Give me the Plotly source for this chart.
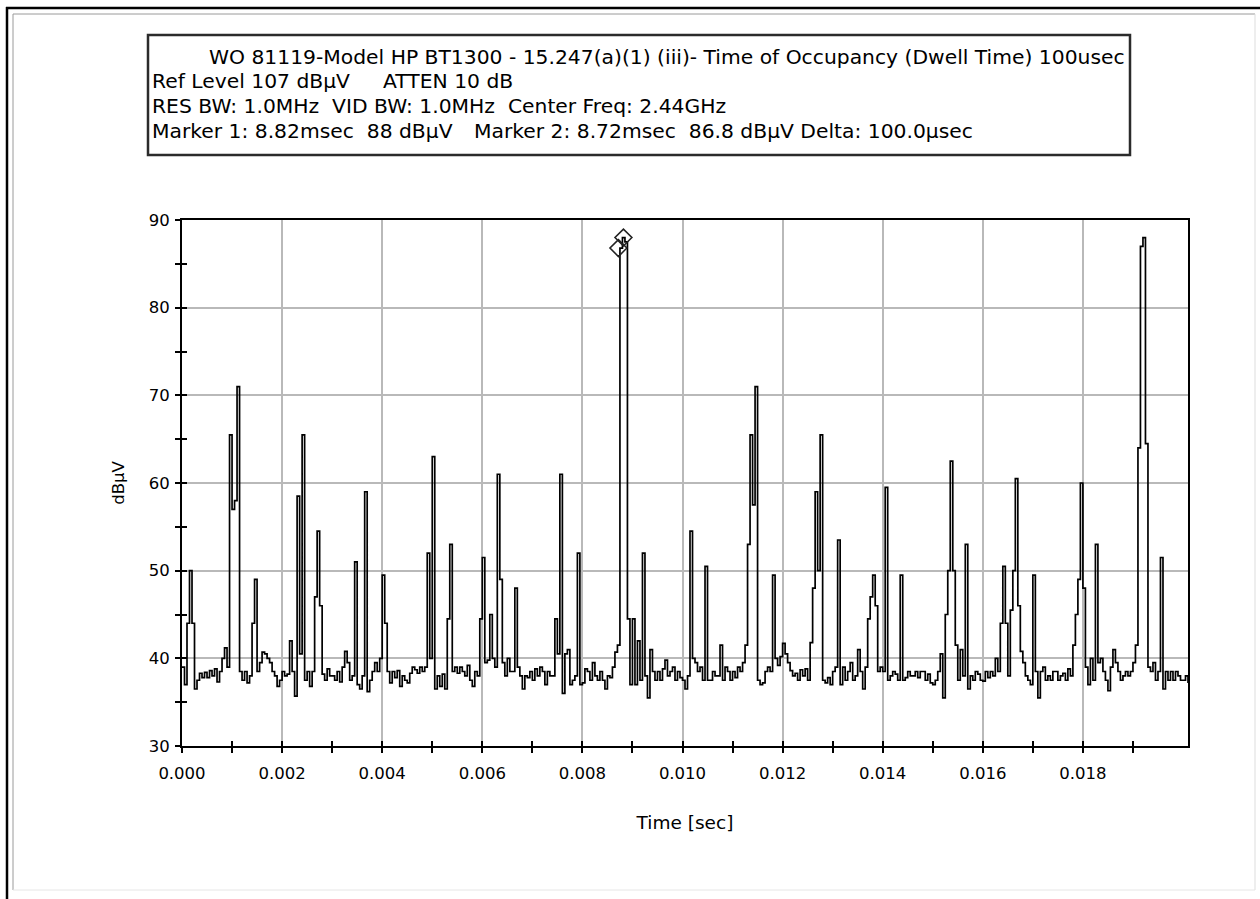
import plotly.graph_objects as go

# ---------------- data ----------------
SAMPLE_STEP_S = 0.00005          # sweep sample spacing (20.1 ms / 402 steps)
X_RANGE_S = [0.0, 0.0201]
Y_RANGE_DB = [30, 90]

level_dbuv = [
    39, 37, 44, 50, 44, 36.5, 37.5, 38.3, 37.8, 38.4, 37.8, 38.6, 38, 38.8, 37.3, 38.5, 40, 41.2, 39, 65.5,
    57, 58, 71, 38.5, 37.5, 38.5, 37.2, 38, 44, 49, 38.5, 39.5, 40.7, 40.5, 40, 39.5, 38.5, 38, 36.8, 37.5,
    38.5, 38, 38.2, 42, 38.5, 35.7, 58.5, 40.5, 65.5, 37.5, 38.5, 36.8, 38.5, 47, 54.5, 46, 38.2, 37.5, 38.8, 38,
    38, 37.5, 38.5, 37.3, 39, 40.8, 39.5, 37.5, 38, 51, 37, 36.5, 38, 59, 36.2, 37.5, 38.5, 39.5, 38.5, 40,
    49.5, 44, 38.5, 37.2, 38.5, 37.8, 38.6, 36.8, 38, 37.5, 37.2, 38.3, 39, 38.7, 38.3, 39, 38.5, 39, 52, 40,
    63, 36.5, 38, 36.8, 38.2, 36.5, 44.5, 53, 38.5, 39, 38.3, 39, 38.5, 38, 39.2, 37.5, 36.8, 38.5, 38, 44.5,
    51.5, 39.5, 39.8, 45, 40, 39, 61, 49, 39.5, 38, 40, 38.5, 38.5, 48, 39, 38, 36.5, 38, 37.8, 38.5,
    37.5, 38.8, 38, 39, 38.5, 37, 38.5, 38, 38, 44.5, 40.5, 61, 36, 40.5, 41, 37, 37.5, 38, 52, 37,
    37.2, 38.8, 38.5, 37.5, 39.5, 38, 37.5, 38.5, 37.5, 36.5, 38, 37.8, 39, 40.7, 41.5, 86.8, 88, 87.5, 44.5, 37,
    44.5, 37, 42, 37.5, 52, 38, 35.5, 41, 38.5, 37.5, 38.5, 37.5, 38.8, 39.8, 38, 38.5, 39, 37.5, 38.5, 37.8,
    37.5, 36.5, 38, 54.5, 40, 39.5, 38.5, 39, 37.5, 50.5, 37.5, 37.5, 38.5, 38, 38, 41.5, 37.5, 39, 38.5, 37.5,
    38.5, 37.8, 39, 38.5, 39.5, 41.5, 53, 65.5, 57.5, 71, 37.5, 37, 37.2, 38.5, 39, 38.5, 49.5, 40, 39.2, 40.2,
    41.7, 40.5, 39.5, 38.6, 38, 38.3, 37.5, 38.7, 38, 38.8, 37.5, 41.8, 48, 59, 50, 65.5, 37.5, 37.2, 37.8, 37,
    38.5, 39, 53.5, 37, 39, 37.5, 38.5, 39.5, 37.5, 38, 41, 38.5, 36.5, 39, 44.5, 47, 49.5, 46, 38.5, 39,
    38.5, 59.5, 37.5, 38, 38.5, 38.2, 37.5, 49.5, 37.5, 37.8, 38.5, 38, 38, 38.5, 37.8, 38.5, 38.5, 37.5, 38.2, 37.2,
    37, 37.5, 38.5, 40.5, 35.5, 45, 50, 62.5, 50, 41.5, 37.5, 41, 38, 53, 36.5, 38, 37.5, 38.5, 38.2, 37.5,
    37.4, 38.5, 37.8, 38.5, 38, 40, 38.5, 44, 50.5, 44, 38, 45.5, 50, 60.5, 46, 40.8, 39.5, 38, 37.5, 37,
    49.5, 38.5, 35.5, 38.5, 39, 37.5, 38, 37.5, 38.5, 38.5, 37.5, 38, 38.3, 37.5, 38.8, 38, 41.5, 45, 49, 60,
    48, 39, 37, 40, 37.5, 53, 39.5, 40, 38.5, 37.5, 36.3, 39, 41, 39.5, 38.5, 37.5, 38, 38.5, 38, 38.5,
    39.5, 41.5, 64, 87, 88, 64.5, 39, 38.5, 39.5, 37.5, 38.5, 51.5, 36.5, 38.5, 37.5, 38.5, 37.5, 38.5, 38, 37.5,
    37.5, 38, 37.2,
]
time_s = [i * SAMPLE_STEP_S for i in range(len(level_dbuv))]

marker_time_s = [0.00882, 0.00872]
marker_level_dbuv = [88.0, 86.8]

x_tick_vals = [0.000, 0.002, 0.004, 0.006, 0.008, 0.010, 0.012, 0.014, 0.016, 0.018]
x_tick_text = ["0.000", "0.002", "0.004", "0.006", "0.008", "0.010", "0.012", "0.014", "0.016", "0.018"]
x_minor_vals = [0.001, 0.003, 0.005, 0.007, 0.009, 0.011, 0.013, 0.015, 0.017, 0.019]
y_tick_vals = [30, 40, 50, 60, 70, 80, 90]
y_minor_vals = [35, 45, 55, 65, 75, 85]

header_title = "WO 81119-Model HP BT1300 - 15.247(a)(1) (iii)- Time of Occupancy (Dwell Time) 100usec"
header_ref = "Ref Level 107 dBµV"
header_atten = "ATTEN 10 dB"
header_bw = "RES BW: 1.0MHz\u00a0\u00a0VID BW: 1.0MHz\u00a0\u00a0Center Freq: 2.44GHz"
header_m1 = "Marker 1: 8.82msec\u00a0\u00a088 dBµV"
header_m2 = "Marker 2: 8.72msec\u00a0\u00a086.8 dBµV Delta: 100.0µsec"

# ---------------- layout geometry (pixels) ----------------
W, H = 1260, 899
L, R, T, B = 182, 1188, 220, 746
FONT = "DejaVu Sans, Liberation Sans, sans-serif"


def px(x):
    return (x - L) / (R - L)


def py(y):
    return (B - y) / (B - T)


fig = go.Figure()
fig.add_trace(go.Scatter(
    x=time_s, y=level_dbuv, mode="lines", line=dict(color="black", width=1.7, shape="hv"),
    hoverinfo="skip", showlegend=False,
))
fig.add_trace(go.Scatter(
    x=marker_time_s, y=marker_level_dbuv, mode="markers",
    marker=dict(symbol="diamond-open", size=13, color="#222", line=dict(width=1.6)),
    hoverinfo="skip", showlegend=False,
))
# dummy trace for the overlay axes that draw the inward half of the crossing ticks
fig.add_trace(go.Scatter(x=[None], y=[None], xaxis="x2", yaxis="y2", showlegend=False, hoverinfo="skip"))

tickfont = dict(family=FONT, size=16.5, color="black")
fig.update_layout(
    width=W, height=H,
    margin=dict(l=L, r=W - R, t=T, b=H - B),
    paper_bgcolor="white", plot_bgcolor="white",
    font=dict(family=FONT, color="black"),
    xaxis=dict(
        range=X_RANGE_S, tickmode="array", tickvals=x_tick_vals, ticktext=x_tick_text,
        ticks="outside", ticklen=5, tickwidth=1.5, tickcolor="black",
        minor=dict(tickmode="array", tickvals=x_minor_vals, ticks="outside", ticklen=5,
                   tickwidth=1.5, tickcolor="black", showgrid=False),
        showgrid=True, gridcolor="#b9b9b9", gridwidth=1.5,
        showline=True, linecolor="black", linewidth=2, mirror=True,
        zeroline=False, tickfont=tickfont, ticklabelstandoff=6,
        title=dict(text="Time [sec]", font=dict(family=FONT, size=18.5), standoff=34),
    ),
    yaxis=dict(
        range=Y_RANGE_DB, tickmode="array", tickvals=y_tick_vals,
        ticks="outside", ticklen=5, tickwidth=1.5, tickcolor="black",
        minor=dict(tickmode="array", tickvals=y_minor_vals, ticks="outside", ticklen=5,
                   tickwidth=1.5, tickcolor="black", showgrid=False),
        showgrid=True, gridcolor="#b9b9b9", gridwidth=1.5,
        showline=True, linecolor="black", linewidth=2, mirror=True,
        zeroline=False, tickfont=tickfont, ticklabelstandoff=2,
        title=dict(text="dBµV", font=dict(family=FONT, size=16.5), standoff=20),
    ),
    xaxis2=dict(
        overlaying="x", anchor="y2", range=X_RANGE_S, tickmode="array", tickvals=x_tick_vals,
        ticks="inside", ticklen=5, tickwidth=1.5, tickcolor="black", showticklabels=False,
        minor=dict(tickmode="array", tickvals=x_minor_vals, ticks="inside", ticklen=5,
                   tickwidth=1.5, tickcolor="black"),
        showgrid=False, showline=False, zeroline=False,
    ),
    yaxis2=dict(
        overlaying="y", anchor="x2", range=Y_RANGE_DB, tickmode="array", tickvals=y_tick_vals,
        ticks="inside", ticklen=5, tickwidth=1.5, tickcolor="black", showticklabels=False,
        minor=dict(tickmode="array", tickvals=y_minor_vals, ticks="inside", ticklen=5,
                   tickwidth=1.5, tickcolor="black"),
        showgrid=False, showline=False, zeroline=False,
    ),
)

# window frame around the whole picture
frame = [
    dict(x0=px(6), x1=px(W + 2), y0=py(8), y1=py(8), color="black", width=2.5),
    dict(x0=px(7), x1=px(7), y0=py(7), y1=py(H + 2), color="black", width=2.5),
    dict(x0=px(13), x1=px(W - 5), y0=py(14), y1=py(14), color="#9a9a9a", width=1),
    dict(x0=px(13), x1=px(13), y0=py(14), y1=py(H - 9), color="#9a9a9a", width=1),
    dict(x0=px(W - 5), x1=px(W - 5), y0=py(14), y1=py(H - 9), color="#dddddd", width=1),
    dict(x0=px(13), x1=px(W - 5), y0=py(H - 9), y1=py(H - 9), color="#e6e6e6", width=1),
]
for f in frame:
    fig.add_shape(type="line", xref="paper", yref="paper", x0=f["x0"], x1=f["x1"],
                  y0=f["y0"], y1=f["y1"], line=dict(color=f["color"], width=f["width"]))

# header box
fig.add_shape(type="rect", xref="paper", yref="paper", x0=px(148), x1=px(1130),
              y0=py(155), y1=py(35), line=dict(color="#2b2b2b", width=2.5), fillcolor="white")

hfont = dict(family=FONT, size=20.3, color="black")
header_items = [
    (header_title, 1127, 57, "right"),
    (header_ref, 150, 81, "left"),
    (header_atten, 381, 81, "left"),
    (header_bw, 150, 106, "left"),
    (header_m1, 150, 131, "left"),
    (header_m2, 472, 131, "left"),
]
for text, x, y, anchor in header_items:
    fig.add_annotation(text=text, xref="paper", yref="paper", x=px(x), y=py(y),
                       xanchor=anchor, yanchor="middle", showarrow=False, font=hfont)

fig.write_html("out.html")
